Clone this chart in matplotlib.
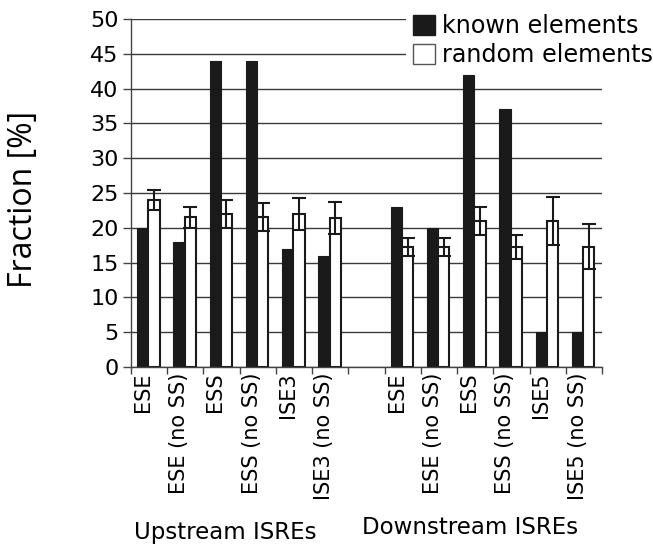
import numpy as np
import matplotlib
matplotlib.use("Agg")
import matplotlib.pyplot as plt
from matplotlib.patches import Patch
import matplotlib.transforms as mtransforms

# fractions (%) per element class, upstream then downstream ISREs
labels = ["ESE", "ESE (no SS)", "ESS", "ESS (no SS)", "ISE3", "ISE3 (no SS)",
          "ESE", "ESE (no SS)", "ESS", "ESS (no SS)", "ISE5", "ISE5 (no SS)"]
known = [20, 18, 44, 44, 17, 16,
         23, 20, 42, 37, 5, 5]
random_mean = [24.0, 21.5, 22.0, 21.5, 22.0, 21.4,
               17.2, 17.2, 21.0, 17.2, 21.0, 17.3]
random_err = [1.5, 1.5, 2.0, 2.0, 2.3, 2.3,
              1.3, 1.3, 2.0, 1.7, 3.4, 3.2]
groups = ["Upstream ISREs", "Downstream ISREs"]

# slot 6 is left empty between the two groups
pos = np.array([0, 1, 2, 3, 4, 5, 7, 8, 9, 10, 11, 12])
w = 0.31

fig = plt.figure(figsize=(6.53, 5.46), dpi=100)
ax = fig.add_axes([0.2006, 0.3278, 0.7213, 0.6374])

ax.set_axisbelow(True)
ax.yaxis.grid(True, color="#3a3a3a", linewidth=1.0)

ax.bar(pos - w / 2 - 0.02, known, w, color="#1a1a1a", edgecolor="#1a1a1a", linewidth=0.8)
ax.bar(pos + w / 2 - 0.02, random_mean, w, color="white", edgecolor="#1a1a1a",
       linewidth=1.5, yerr=random_err,
       error_kw=dict(ecolor="#1a1a1a", elinewidth=1.5, capsize=5, capthick=1.5))

ax.set_xlim(-0.5, 12.5)
ax.set_ylim(0, 50)
ax.set_yticks(np.arange(0, 51, 5))
ax.tick_params(axis="y", labelsize=16, length=6, width=1, color="#444444", pad=3)

# labels sit a little left of the slot centre
ax.set_xticks(pos - 0.17)
ax.set_xticklabels(labels, rotation=90, fontsize=15, rotation_mode="anchor",
                   ha="right", va="center")
ax.tick_params(axis="x", which="major", length=0, pad=4)
ax.set_xticks(np.arange(-0.5, 13, 1), minor=True)
ax.tick_params(axis="x", which="minor", length=5, width=1, color="#444444")

for s in ["top", "right"]:
    ax.spines[s].set_visible(False)
for s in ["left", "bottom"]:
    ax.spines[s].set_color("#444444")
    ax.spines[s].set_linewidth(1.0)

fig.text(0.036, 0.634, "Fraction [%]", rotation=90, ha="center", va="center",
         fontsize=23, family="Open Sans")

trans = mtransforms.blended_transform_factory(ax.transData, fig.transFigure)
ax.text(2.1, 0.024, groups[0], transform=trans, ha="center", va="center", fontsize=16.5)
ax.text(8.86, 0.033, groups[1], transform=trans, ha="center", va="center", fontsize=16.5)

handles = [Patch(facecolor="#1a1a1a", edgecolor="#1a1a1a"),
           Patch(facecolor="white", edgecolor="#555555")]
leg = fig.legend(handles, ["known elements", "random elements"], loc="upper left",
                 bbox_to_anchor=(0.622, 0.987), fontsize=17.2, frameon=True,
                 handlelength=0.9, handleheight=0.9, handletextpad=0.3,
                 labelspacing=0.2, borderpad=0.3, borderaxespad=0)
leg.get_frame().set_facecolor("white")
leg.get_frame().set_edgecolor("none")
leg.get_frame().set_alpha(1)

fig.savefig("out.png", dpi=100)
